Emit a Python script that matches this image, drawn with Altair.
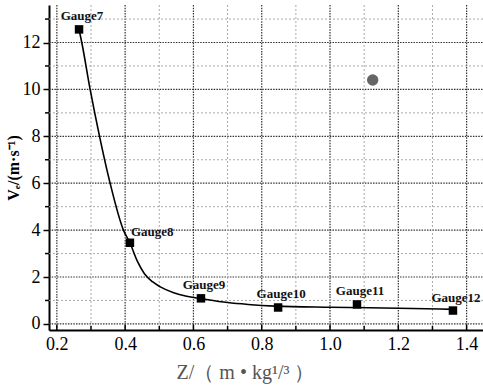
import altair as alt
import pandas as pd

# measured gauges
gauges = ["Gauge7", "Gauge8", "Gauge9", "Gauge10", "Gauge11", "Gauge12"]
z_vals = [0.265, 0.414, 0.622, 0.848, 1.079, 1.36]
ve_vals = [12.56, 3.46, 1.09, 0.70, 0.83, 0.57]

# fitted curve
curve_z = [0.265, 0.273, 0.2975, 0.325, 0.356, 0.395, 0.414, 0.435, 0.456, 0.48,
           0.503, 0.542, 0.58, 0.622, 0.7, 0.76, 0.84, 1.0, 1.2, 1.36]
curve_ve = [12.56, 12.0, 10.0, 8.0, 6.0, 4.0, 3.46, 2.7, 2.15, 1.8,
            1.58, 1.33, 1.18, 1.08, 0.91, 0.83, 0.76, 0.71, 0.67, 0.62]

# scan blot
blot_z = [1.125]
blot_ve = [10.4]

x_major = [0.2, 0.4, 0.6, 0.8, 1.0, 1.2, 1.4]
x_minor = [0.3, 0.5, 0.7, 0.9, 1.1, 1.3]
y_major = [0, 2, 4, 6, 8, 10, 12]
y_minor = [1, 3, 5, 7, 9, 11, 13]

XDOM = [0.177, 1.448]
YDOM = [-0.26, 13.6]
FONT = "Liberation Serif"
W, H = 434, 325

pts = pd.DataFrame({"z": z_vals, "ve": ve_vals, "label": gauges})
curve = pd.DataFrame({"z": curve_z, "ve": curve_ve})
blot = pd.DataFrame({"z": blot_z, "ve": blot_ve})
xmaj = pd.DataFrame({"v": x_major})
xmin = pd.DataFrame({"v": x_minor})
ymaj = pd.DataFrame({"v": y_major})
ymin = pd.DataFrame({"v": y_minor})

xs = alt.Scale(domain=XDOM, nice=False, zero=False)
ys = alt.Scale(domain=YDOM, nice=False, zero=False)

x_axis = alt.Axis(values=x_major, format=".1f", ticks=False, labelPadding=5,
                  labelFont=FONT, labelFontSize=18, labelColor="black",
                  title="Z/（ m • kg¹/³ ）", titleFont=FONT, titleFontSize=20,
                  titleFontWeight="normal", titleColor="#555", titlePadding=9,
                  titleX=196)
y_axis = alt.Axis(values=y_major, format="d", ticks=True, tickSize=6,
                  tickWidth=1.5, tickColor="black", labelPadding=3,
                  labelFont=FONT, labelFontSize=18, labelColor="black",
                  title="Vₑ/(m·s⁻¹)", titleFont=FONT, titleFontSize=16,
                  titleFontWeight="bold", titleColor="black", titlePadding=1)

# minor grid lines (light dotted)
minor_x = alt.Chart(xmin).mark_rule(color="#aaa", strokeDash=[2, 2], strokeWidth=1).encode(
    x=alt.X("v:Q", scale=xs), y=alt.value(0), y2=alt.value(H))
minor_y = alt.Chart(ymin).mark_rule(color="#aaa", strokeDash=[2, 2], strokeWidth=1).encode(
    y=alt.Y("v:Q", scale=ys), x=alt.value(0), x2=alt.value(W))

# major grid lines (dark dotted)
major_x = alt.Chart(xmaj).mark_rule(color="#333", strokeDash=[1.5, 1.2], strokeWidth=1.2).encode(
    x=alt.X("v:Q", scale=xs, axis=x_axis), y=alt.value(0), y2=alt.value(H))
major_y = alt.Chart(ymaj).mark_rule(color="#333", strokeDash=[1.5, 1.2], strokeWidth=1.2).encode(
    y=alt.Y("v:Q", scale=ys, axis=y_axis), x=alt.value(0), x2=alt.value(W))

# inward ticks on x, outward minor ticks on y
tick_x_major = alt.Chart(xmaj).mark_rule(color="black", strokeWidth=1.5).encode(
    x=alt.X("v:Q", scale=xs), y=alt.value(H), y2=alt.value(H - 5))
tick_x_minor = alt.Chart(xmin).mark_rule(color="black", strokeWidth=1.5).encode(
    x=alt.X("v:Q", scale=xs), y=alt.value(H), y2=alt.value(H - 4))
tick_y_minor = alt.Chart(ymin).mark_rule(color="black", strokeWidth=1.5).encode(
    y=alt.Y("v:Q", scale=ys), x=alt.value(-4), x2=alt.value(0))

line = alt.Chart(curve).mark_line(color="black", strokeWidth=1.6, interpolate="monotone").encode(
    x=alt.X("z:Q", scale=xs), y=alt.Y("ve:Q", scale=ys))

points = alt.Chart(pts).mark_point(shape="square", filled=True, color="black",
                                   size=72, opacity=1).encode(
    x=alt.X("z:Q", scale=xs), y=alt.Y("ve:Q", scale=ys))

labels_c = alt.Chart(pts).transform_filter(alt.datum.label != "Gauge8").mark_text(
    font=FONT, fontSize=13, fontWeight="bold", color="#111", align="center",
    baseline="bottom", dx=3, dy=-6).encode(
    x=alt.X("z:Q", scale=xs), y=alt.Y("ve:Q", scale=ys), text="label:N")
labels_l = alt.Chart(pts).transform_filter(alt.datum.label == "Gauge8").mark_text(
    font=FONT, fontSize=13, fontWeight="bold", color="#111", align="left",
    baseline="bottom", dx=1, dy=-4).encode(
    x=alt.X("z:Q", scale=xs), y=alt.Y("ve:Q", scale=ys), text="label:N")

blot_mark = alt.Chart(blot).mark_point(shape="circle", filled=True, color="#666",
                                       size=130, opacity=1).encode(
    x=alt.X("z:Q", scale=xs), y=alt.Y("ve:Q", scale=ys))

chart = alt.layer(
    major_x, major_y, minor_x, minor_y, tick_x_major, tick_x_minor, tick_y_minor,
    line, points, labels_c, labels_l, blot_mark
).properties(
    width=W, height=H,
    autosize=alt.AutoSizeParams(type="none"),
    padding={"left": 49, "top": 5, "right": 0, "bottom": 56},
    background="white",
).configure_view(stroke=None).configure_axis(
    grid=False, domainColor="black", domainWidth=2, labelFlush=False,
)

chart.save("out.html", embed_options={"renderer": "svg", "actions": False})
